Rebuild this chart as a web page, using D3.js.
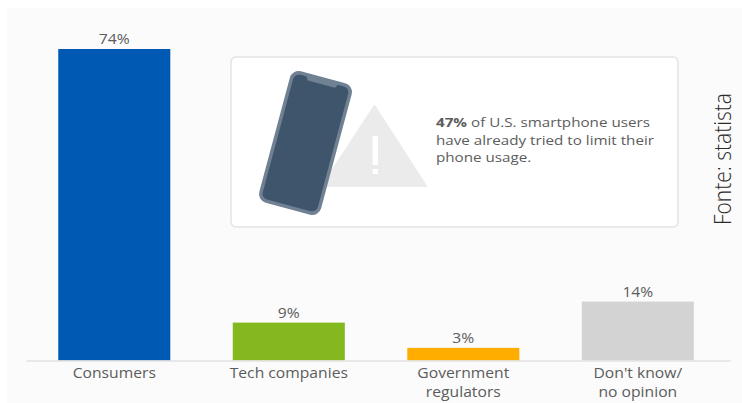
<!DOCTYPE html>
<html>
<head>
<meta charset="utf-8">
<script src="https://cdn.jsdelivr.net/npm/d3@7/dist/d3.min.js"></script>
<style>
  html, body { margin: 0; padding: 0; background: #fff; }
  svg { display: block; font-family: "Open Sans", sans-serif; }
</style>
</head>
<body>
<svg id="chart" width="742" height="403"></svg>
<script>
// Survey shares by responsible party
const categories = ["Consumers", "Tech companies", "Government regulators", "Don't know/ no opinion"];
const values = [74, 9, 3, 14];
const barColors = ["#0059b2", "#83b81e", "#ffae00", "#d3d3d3"];
const categoryLines = [["Consumers"], ["Tech companies"], ["Government", "regulators"], ["Don't know/", "no opinion"]];
const calloutLines = [[["47%", true], [" of U.S. smartphone users", false]], [["have already tried to limit their", false]], [["phone usage.", false]]];
const sourceNote = "Fonte: statista";

const svg = d3.select("#chart");
const textColor = "#5c5c5c";
const labelStretch = 1.12;

// Off-white chart backdrop inside a thin white margin
svg.append("rect").attr("x", 7).attr("y", 8).attr("width", 735).attr("height", 395).attr("fill", "#fbfbfb");

const x = d3.scaleBand().domain(categories).range([26, 730]).paddingInner(0.358).paddingOuter(0.196).align(0.4715);
const y = d3.scaleLinear().domain([0, 74]).range([360.5, 49]);
const cx = i => x(categories[i]) + x.bandwidth() / 2;

// Bars
svg.selectAll("rect.bar").data(values).join("rect")
  .attr("class", "bar")
  .attr("x", (d, i) => x(categories[i]))
  .attr("y", d => y(d))
  .attr("width", x.bandwidth())
  .attr("height", d => y(0) - y(d))
  .attr("fill", (d, i) => barColors[i]);

// Value labels above the bars
svg.selectAll("text.value").data(values).join("text")
  .attr("class", "value")
  .attr("transform", (d, i) => `translate(${cx(i)},${y(d) - 5}) scale(${labelStretch},1)`)
  .attr("text-anchor", "middle")
  .attr("font-size", 14)
  .attr("fill", textColor)
  .text(d => d + "%");

// Category axis, with labels broken over two lines where needed
const axis = d3.axisBottom(x).tickSize(0).tickFormat("");
const axisG = svg.append("g").attr("transform", `translate(0,${y(0)})`).call(axis);
axisG.select(".domain").attr("stroke", "#e2e2e2").attr("stroke-width", 1.5);

categoryLines.forEach((lines, i) => {
  lines.forEach((line, j) => {
    svg.append("text")
      .attr("transform", `translate(${cx(i)},${378 + j * 18.5}) scale(${labelStretch},1)`)
      .attr("text-anchor", "middle")
      .attr("font-size", 14)
      .attr("fill", textColor)
      .text(line);
  });
});

// Callout panel
svg.append("rect")
  .attr("x", 231).attr("y", 57).attr("width", 447).attr("height", 170).attr("rx", 5)
  .attr("fill", "#fff").attr("stroke", "#e4e4e4").attr("stroke-width", 1.5);

// Warning triangle behind the phone
svg.append("path")
  .attr("d", "M374.5,106 L426,186 L322,186 Z")
  .attr("fill", "#ebebeb").attr("stroke", "#ebebeb").attr("stroke-width", 2).attr("stroke-linejoin", "round");
svg.append("rect").attr("x", 372.5).attr("y", 136).attr("width", 5.5).attr("height", 29).attr("rx", 1).attr("fill", "#fff");
svg.append("rect").attr("x", 372.5).attr("y", 169).attr("width", 5.5).attr("height", 5).attr("fill", "#fff");

// Phone, tilted
const phone = svg.append("g").attr("transform", "translate(305.5,143) rotate(15)");
phone.append("rect").attr("x", -32).attr("y", -68).attr("width", 64).attr("height", 136).attr("rx", 9).attr("fill", "#6f8193");
phone.append("rect").attr("x", -28.5).attr("y", -64.5).attr("width", 57).attr("height", 129).attr("rx", 6).attr("fill", "#3f556b");
phone.append("path").attr("d", "M-18,-67 L-14,-61 L14,-61 L18,-67 Z").attr("fill", "#6f8193");

// Callout text
calloutLines.forEach((runs, i) => {
  const t = svg.append("text")
    .attr("transform", `translate(436,${127 + i * 17.7}) scale(1.17,1)`)
    .attr("font-size", 13).attr("fill", textColor);
  runs.forEach(([s, bold]) => {
    t.append("tspan").attr("font-weight", bold ? 700 : 400).text(s);
  });
});

// Source note along the right edge
svg.append("text")
  .attr("transform", "translate(731,225) rotate(-90) scale(1,1.13)")
  .attr("font-size", 21)
  .attr("font-weight", 300)
  .attr("fill", "#2b2b2b")
  .text(sourceNote);
</script>
</body>
</html>
